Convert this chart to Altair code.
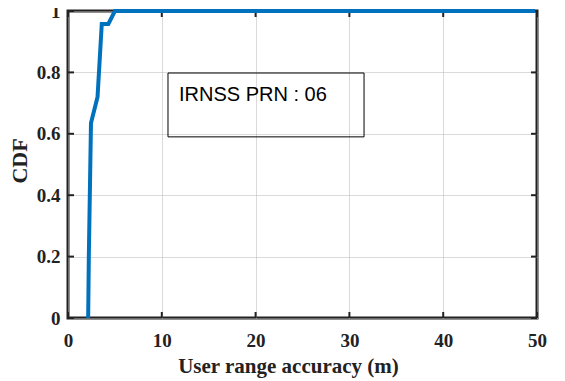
import altair as alt
import pandas as pd

# CDF curve
ura = [2.15, 2.22, 2.45, 3.15, 3.6, 4.3, 5.0, 49.8]
cdf = [0.0, 0.2, 0.635, 0.72, 0.958, 0.958, 1.0, 1.0]

x_ticks = [0, 10, 20, 30, 40, 50]
y_ticks = [0, 0.2, 0.4, 0.6, 0.8, 1.0]

label_text = "IRNSS PRN : 06"
box_x = [10.66, 31.56]
box_y = [0.59, 0.798]
label_pos = [11.83, 0.728]

W, H = 469, 307
serif = "Liberation Serif"

line_df = pd.DataFrame({"x": ura, "y": cdf})
xt_df = pd.DataFrame({"x": x_ticks})
yt_df = pd.DataFrame({"y": y_ticks})
box_df = pd.DataFrame({"x": [box_x[0]], "x2": [box_x[1]], "y": [box_y[0]], "y2": [box_y[1]]})
txt_df = pd.DataFrame({"x": [label_pos[0]], "y": [label_pos[1]], "t": [label_text]})

xs = alt.Scale(domain=[0, 50], nice=False)
ys = alt.Scale(domain=[0, 1], nice=False)

x_axis = alt.Axis(values=x_ticks, title="User range accuracy (m)", ticks=False, domain=False,
                  labelFont=serif, labelFontWeight="bold", labelFontSize=19, labelColor="#222",
                  labelPadding=13, titleFont=serif, titleFontWeight="bold", titleFontSize=21,
                  titleColor="#222", titleX=220, titleY=54, titleBaseline="alphabetic",
                  gridColor="#b5b5b5", gridDash=[1, 1], gridWidth=1, labelFlush=False)
y_axis = alt.Axis(values=y_ticks, title="CDF", format="~g", ticks=False, domain=False,
                  labelFont=serif, labelFontWeight="bold", labelFontSize=19, labelColor="#222",
                  labelPadding=8, titleFont=serif, titleFontWeight="bold", titleFontSize=22,
                  titleColor="#222", titleX=-49, titleY=H / 2 - 4, titleBaseline="middle",
                  titleAngle=-90, gridColor="#b5b5b5", gridDash=[1, 1], gridWidth=1, labelFlush=False)

base_line = alt.Chart(line_df).mark_line(color="#0072BD", strokeWidth=4).encode(
    x=alt.X("x:Q", scale=xs, axis=x_axis),
    y=alt.Y("y:Q", scale=ys, axis=y_axis),
)

box = alt.Chart(box_df).mark_rect(fill=None, stroke="#000", strokeWidth=1, fillOpacity=0).encode(
    x=alt.X("x:Q", scale=xs), x2="x2:Q", y=alt.Y("y:Q", scale=ys), y2="y2:Q"
)
txt = alt.Chart(txt_df).mark_text(align="left", baseline="middle", font="Liberation Sans",
                                   fontSize=20, color="#000").encode(
    x=alt.X("x:Q", scale=xs), y=alt.Y("y:Q", scale=ys), text="t:N"
)

tick_style = dict(color="#222", strokeWidth=2)
xt_bottom = alt.Chart(xt_df).mark_rule(**tick_style).encode(
    x=alt.X("x:Q", scale=xs), y=alt.value(H), y2=alt.value(H - 6))
xt_top = alt.Chart(xt_df).mark_rule(**tick_style).encode(
    x=alt.X("x:Q", scale=xs), y=alt.value(0), y2=alt.value(6))
yt_left = alt.Chart(yt_df).mark_rule(**tick_style).encode(
    y=alt.Y("y:Q", scale=ys), x=alt.value(0), x2=alt.value(6))
yt_right = alt.Chart(yt_df).mark_rule(**tick_style).encode(
    y=alt.Y("y:Q", scale=ys), x=alt.value(W), x2=alt.value(W - 6))

chart = alt.layer(box, txt, xt_bottom, xt_top, yt_left, yt_right, base_line).properties(
    width=W, height=H,
    autosize=alt.AutoSizeParams(type="none"),
    padding={"left": 60, "top": 3, "right": 20, "bottom": 60},
    background="white",
).configure_view(stroke="#222", strokeWidth=3)

chart.save("out.html", embed_options={"renderer": "svg", "actions": False})
